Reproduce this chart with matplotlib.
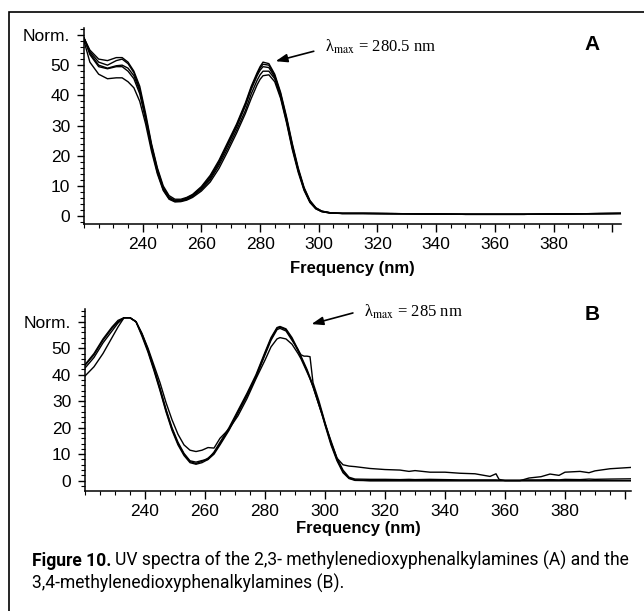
import matplotlib
matplotlib.use('Agg')
import matplotlib.pyplot as plt
from matplotlib.patches import Rectangle
from matplotlib.ticker import MultipleLocator

plt.rcParams['font.family'] = ['Liberation Sans', 'DejaVu Sans']
plt.rcParams['mathtext.fontset'] = 'stix'

# --- panel A: 2,3-methylenedioxy (5 spectra) ---
wl_a = [220, 222, 225, 228, 231, 233, 235, 237, 239, 241, 243, 245, 247, 249, 251, 253,
        255, 257, 260, 263, 266, 269, 272, 275, 277, 279, 280, 281, 283, 285, 287, 289,
        291, 293, 295, 297, 299, 301, 304, 308, 315, 330, 350, 370, 390, 403]
a1 = [59, 55, 52, 51.5, 52.5, 52.5, 51, 48, 43, 34, 24, 16, 10, 6.8, 5.6, 5.6,
      6.2, 7.2, 9.8, 13.5, 18.5, 24.5, 30.5, 37.5, 43, 47.5, 49.5, 51, 50.5, 47, 41, 33,
      24, 16, 9.5, 5.2, 2.8, 1.7, 1.1, 0.9, 0.9, 0.8, 0.6, 0.6, 0.8, 0.9]
a2 = [59, 54.5, 51, 50, 51.5, 52, 50.5, 47.5, 42, 33, 23.5, 15.5, 9.5, 6.3, 5.2, 5.3,
      6, 7, 9.5, 13, 18, 24, 30, 37, 42.5, 47, 49, 50.3, 50, 46.5, 40.5, 32.5,
      23.5, 15.5, 9.2, 5, 2.7, 1.6, 1.1, 0.9, 0.9, 0.8, 0.6, 0.6, 0.8, 0.9]
a3 = [59, 54, 50, 49, 49.8, 50, 49, 46.5, 41.5, 32.5, 23, 15, 9.2, 6, 5, 5,
      5.7, 6.8, 9.2, 12.5, 17.5, 23.5, 29.5, 36.5, 42, 46.5, 48.3, 49.5, 49.2, 46, 40, 32,
      23, 15.3, 9, 4.8, 2.6, 1.6, 1.1, 0.9, 0.9, 0.8, 0.6, 0.6, 0.8, 0.9]
a4 = [59, 53.5, 49.5, 48.8, 49.5, 49.5, 48, 45.5, 40.5, 32, 22.5, 14.5, 8.8, 5.8, 4.9, 5,
      5.5, 6.5, 8.8, 12, 16.8, 22.5, 28.5, 35, 40.5, 45, 46.8, 48, 48, 45.5, 39.5, 31.5,
      22.5, 15, 8.8, 4.7, 2.5, 1.5, 1, 0.9, 0.9, 0.8, 0.6, 0.6, 0.8, 0.9]
a5 = [58, 51, 47, 45.5, 45.8, 45.8, 44.5, 42.5, 38, 30.5, 21.5, 14, 8.5, 5.6, 4.7, 4.8,
      5.3, 6.2, 8.3, 11.3, 15.8, 21.5, 27.5, 34, 39, 43.5, 45.3, 46.5, 46.8, 44.5, 39, 31,
      22, 14.5, 8.5, 4.5, 2.4, 1.5, 1, 0.9, 0.9, 0.8, 0.6, 0.6, 0.8, 0.9]

# --- panel B: 3,4-methylenedioxy (4 spectra) ---
wl_b = [220, 223, 226, 229, 231, 233, 235, 237, 239, 241, 243, 245, 247, 249, 251, 253,
        255, 257, 259, 261, 263, 265, 268, 271, 274, 277, 280, 282, 284, 285, 287, 289,
        291, 292, 293, 294, 295, 296, 297, 298, 299, 300, 302, 304, 306, 308, 310, 315,
        320, 325, 328, 330, 335, 340, 345, 350, 355, 357, 358, 360, 365, 368, 372, 375,
        378, 380, 385, 388, 390, 395, 402]
b1 = [43.5, 47.5, 53, 57.5, 60, 61.5, 61.5, 60, 55, 49, 42, 34.5, 26.5, 19.5, 14, 10,
      7.2, 6.5, 7.3, 8.5, 10.5, 14, 19.5, 26, 32.5, 39.5, 48, 53.5, 57.5, 58, 57, 53.5,
      49, 47, 44.5, 42, 39, 36, 32.5, 29, 25.5, 21.5, 14, 8, 3.5, 1, 0.3, 0,
      0, 0, 0, 0, 0, 0, 0, 0, 0, 0, 0, 0, 0, 0, 0, 0,
      0, 0, 0, 0, 0, 0, 0]
b2 = [43.8, 48, 53.5, 58, 60.5, 61.5, 61.5, 60, 55.5, 49.5, 42.5, 35, 27, 20, 14.5, 10.3,
      7.5, 7, 7.6, 8, 10, 13.5, 19, 25.5, 32, 39, 47.5, 53, 57, 57.5, 56.5, 53,
      49.5, 47.5, 47, 47, 46.8, 37, 33.5, 30, 26, 22, 14.5, 8.5, 4, 1.3, 0.6, 0.5,
      0.5, 0.4, 0.5, 0.4, 0.5, 0.4, 0.3, 0.3, 0.3, 0.3, 0.2, 0.2, 0.2, 0.3, 0.3, 0.4,
      0.3, 0.5, 0.4, 0.6, 0.5, 0.6, 0.7]
b3 = [42.5, 46.5, 52, 56.5, 59.5, 61.5, 61.5, 60, 54.5, 48.5, 41.5, 34, 26, 19, 13.5, 9.5,
      6.8, 6.2, 6.8, 8, 10.8, 14.5, 20, 26.5, 33, 40, 48.5, 54, 57.8, 58.2, 57.3, 54,
      49.5, 46.5, 44, 41.5, 38.5, 35.5, 32, 28.5, 25, 21, 13.5, 7.5, 3, 0.8, 0.1, 0,
      0, 0, 0, 0, 0, 0, 0, 0, 0, 0, 0, 0, 0, 0, 0, 0,
      0, 0, 0, 0, 0, 0, 0]
b4 = [39.5, 43, 48, 54, 58, 61.5, 61.5, 60, 55.5, 50, 43.5, 37, 29.5, 23, 17.5, 13.5,
      11.5, 11, 11.5, 12.5, 12.3, 16, 19.5, 24.5, 31, 38.5, 45.5, 50.5, 53.5, 54, 53.5, 51.5,
      48, 46, 43.5, 41, 38.5, 35.5, 32, 28.5, 25, 21.5, 15, 8.5, 6, 5.5, 5.3, 4.6,
      4.2, 4, 3.5, 3.8, 3.2, 3.2, 2.8, 2.6, 1.6, 2.6, 0.5, 0, 0, 1, 1.5, 2.5,
      2, 3.2, 3.5, 3, 3.7, 4.5, 5]

x_ticks = [240, 260, 280, 300, 320, 340, 360, 380, 400]
x_labels = ['240', '260', '280', '300', '320', '340', '360', '380', '']
y_ticks = [0, 10, 20, 30, 40, 50, 60]
y_labels = ['0', '10', '20', '30', '40', '50', 'Norm.']

W, H = 644, 611
fig = plt.figure(figsize=(W / 100, H / 100), dpi=100)


def box(l, r, b, t):
    # pixel box -> figure fraction
    return [l / W, 1 - b / H, (r - l) / W, (b - t) / H]


def style(ax, xmax, ylim, labelpad):
    ax.set_xlim(220, xmax)
    ax.set_ylim(*ylim)
    ax.spines['top'].set_visible(False)
    ax.spines['right'].set_visible(False)
    ax.spines['left'].set_linewidth(1.1)
    ax.spines['bottom'].set_linewidth(1.1)
    ax.set_xticks(x_ticks, x_labels)
    ax.set_yticks(y_ticks, y_labels)
    ax.xaxis.set_minor_locator(MultipleLocator(5))
    ax.yaxis.set_minor_locator(MultipleLocator(2))
    ax.tick_params(which='major', direction='out', length=5.5, width=1, labelsize=12.5, pad=4)
    ax.tick_params(which='minor', direction='out', length=3, width=0.8)
    ax.tick_params(axis='y', which='major', length=5, pad=5)
    ax.set_xlabel('Frequency (nm)', fontsize=12, fontweight='bold', labelpad=labelpad)
    ax.patch.set_alpha(0)


serif = ['Liberation Serif', 'DejaVu Serif']
arrow = dict(arrowstyle='-|>,head_length=0.7,head_width=0.25',
             color='black', lw=1.2, shrinkA=0, shrinkB=0)

# panel A
ax1 = fig.add_axes(box(84, 621, 224, 28))
for y in [a1, a2, a3, a4, a5]:
    ax1.plot(wl_a, y, color='black', lw=1.0)
style(ax1, 403, (-2.6, 62.3), 6)
ax1.annotate('', xy=(285.3, 51.3), xytext=(298.3, 54.6), arrowprops=arrow)
ax1.text(302, 56, 'λ$_{\\mathrm{max}}$ = 280.5 nm', family=serif,
         fontsize=12, va='center', ha='left')

# panel B
ax2 = fig.add_axes(box(85, 631, 491, 309))
for y in [b1, b2, b3, b4]:
    ax2.plot(wl_b, y, color='black', lw=1.0)
style(ax2, 402, (-3.9, 64.8), 1)
ax2.annotate('', xy=(295.5, 59.1), xytext=(309.3, 63.3), arrowprops=arrow,
             annotation_clip=False)
ax2.text(313, 63.6, 'λ$_{\\mathrm{max}}$ = 285 nm', family=serif,
         fontsize=12, va='center', ha='left', clip_on=False)

# panel letters
fig.text(592 / W, 1 - 44 / H, 'A', fontsize=15, fontweight='bold', ha='center', va='center')
fig.text(592 / W, 1 - 315 / H, 'B', fontsize=15, fontweight='bold', ha='center', va='center')

# frame around the figure (top and left edges visible)
fig.add_artist(Rectangle((9 / W, -0.1), 1.2, 1 - 12 / H + 0.1, transform=fig.transFigure,
                         fill=False, lw=1.2, edgecolor='black', clip_on=False))

# caption, shrunk so the first line spans the same width as in the print
cap_font = ['Roboto', 'Liberation Sans']
cap_fs = 13
t1 = fig.text(32 / W, 1 - 566 / H, 'Figure 10.', family=cap_font, fontweight='bold',
              fontsize=cap_fs, va='baseline', ha='left')
t2 = fig.text(0, 1 - 566 / H, 'UV spectra of the 2,3- methylenedioxyphenalkylamines (A) and the',
              family=cap_font, fontsize=cap_fs, va='baseline', ha='left')
t3 = fig.text(32 / W, 1 - 589 / H, '3,4-methylenedioxyphenalkylamines (B).',
              family=cap_font, fontsize=cap_fs, va='baseline', ha='left')
fig.canvas.draw()
w1 = t1.get_window_extent().width
w2 = t2.get_window_extent().width
scale = (632 - 32 - 4) / (w1 + w2)
for t in (t1, t2, t3):
    t.set_fontsize(cap_fs * scale)
fig.canvas.draw()
t2.set_x(t1.get_window_extent().x1 / W + 4 / W)

fig.savefig('out.png', dpi=100)
